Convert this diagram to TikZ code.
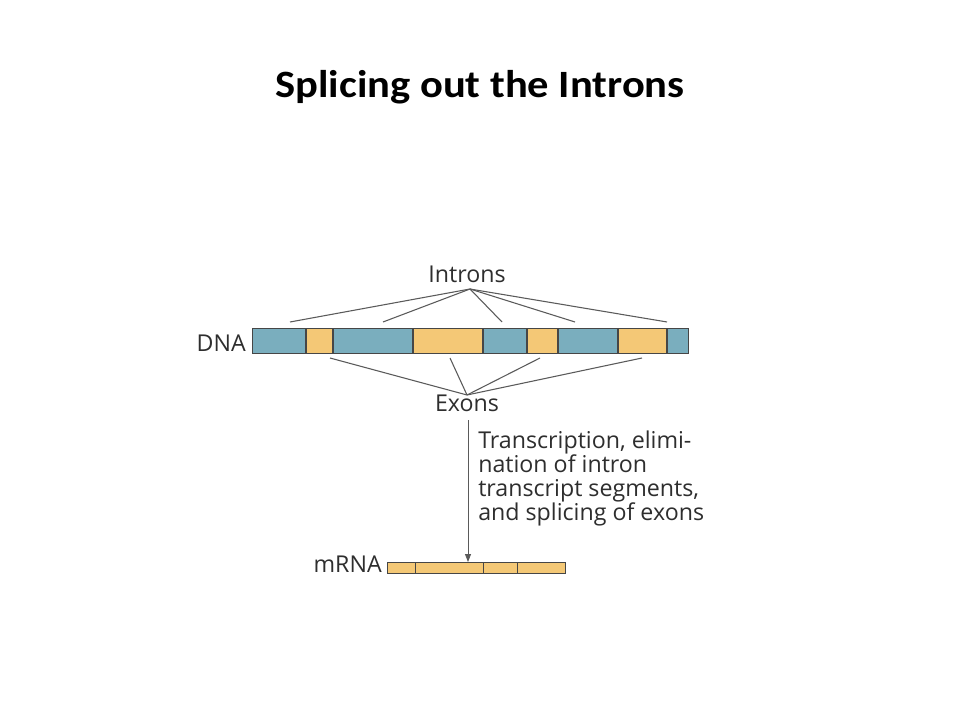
\documentclass[tikz,border=0pt]{standalone}
\usepackage{fontspec}
\setmainfont{Open Sans}
\newfontfamily\titlefont{Carlito}
\usetikzlibrary{arrows.meta}
\definecolor{exblue}{RGB}{122,174,190}
\definecolor{inyellow}{RGB}{244,200,118}
\definecolor{edgegray}{RGB}{70,70,70}
\definecolor{linegray}{RGB}{90,90,90}
\tikzset{
  seg/.style={draw=edgegray, line width=0.9pt},
  pointer/.style={draw=linegray, line width=0.8pt},
  lbl/.style={font=\fontsize{17.4}{17.3}\selectfont, text=black!82, inner sep=0pt},
}
\begin{document}
\begin{tikzpicture}[x=0.75pt,y=-0.75pt]
\useasboundingbox (0,0) rectangle (960,720);
\fill[white] (0,0) rectangle (960,720);
% title
\node[font=\titlefont\bfseries\fontsize{29}{32}\selectfont, inner sep=0pt, anchor=base] (title) at (480,98) {\scalebox{1.1}[1]{Splicing out the Introns}};
% DNA bar
\fill[exblue] (252,328) rectangle (306,353);
\fill[inyellow] (306,328) rectangle (333,353);
\fill[exblue] (333,328) rectangle (413,353);
\fill[inyellow] (413,328) rectangle (483,353);
\fill[exblue] (483,328) rectangle (527,353);
\fill[inyellow] (527,328) rectangle (558,353);
\fill[exblue] (558,328) rectangle (618,353);
\fill[inyellow] (618,328) rectangle (667,353);
\fill[exblue] (667,328) rectangle (688,353);
\node[seg, minimum width=436*0.75pt, minimum height=25*0.75pt, inner sep=0pt, anchor=north west] (dna) at (252,328) {};
\foreach \x in {306,333,413,483,527,558,618,667}{
  \draw[seg] (\x,328) -- (\x,353);
}
\node[lbl, anchor=base east] (dnalbl) at (246,351) {DNA};
% Introns
\node[lbl, anchor=base] (introns) at (467,283) {Introns};
\coordinate (ic) at (470,289);
\foreach \x/\n in {290/i1,383/i2,502/i3,575/i4,667/i5}{
  \coordinate (\n) at (\x,322);
  \draw[pointer] (ic) -- (\n);
}
% Exons
\node[lbl, anchor=base] (exons) at (467,411.5) {Exons};
\coordinate (ec) at (467,395);
\foreach \x/\n in {330/e1,450/e2,540/e3,642/e4}{
  \coordinate (\n) at (\x,358);
  \draw[pointer] (ec) -- (\n);
}
% mRNA
\fill[inyellow] (387,562) rectangle (565,573);
\node[seg, line width=0.7pt, minimum width=178*0.75pt, minimum height=11*0.75pt, inner sep=0pt, anchor=north west] (mrna) at (387,562) {};
\foreach \x in {415,483.5,517}{
  \draw[seg, line width=0.7pt] (\x,562) -- (\x,573);
}
\node[lbl, anchor=base east] (mrnalbl) at (382,572.5) {mRNA};
% arrow
\coordinate (astart) at (468,420);
\draw[draw=linegray, line width=0.6pt, -{Triangle[length=6pt,width=4.5pt]}] (astart) -- (mrna.north -| astart);
\node[lbl, anchor=base west, align=left] (desc) at (478,520.7)
 {Transcription, elimi-\\nation of intron\\transcript segments,\\and splicing of exons};
\end{tikzpicture}
\end{document}
